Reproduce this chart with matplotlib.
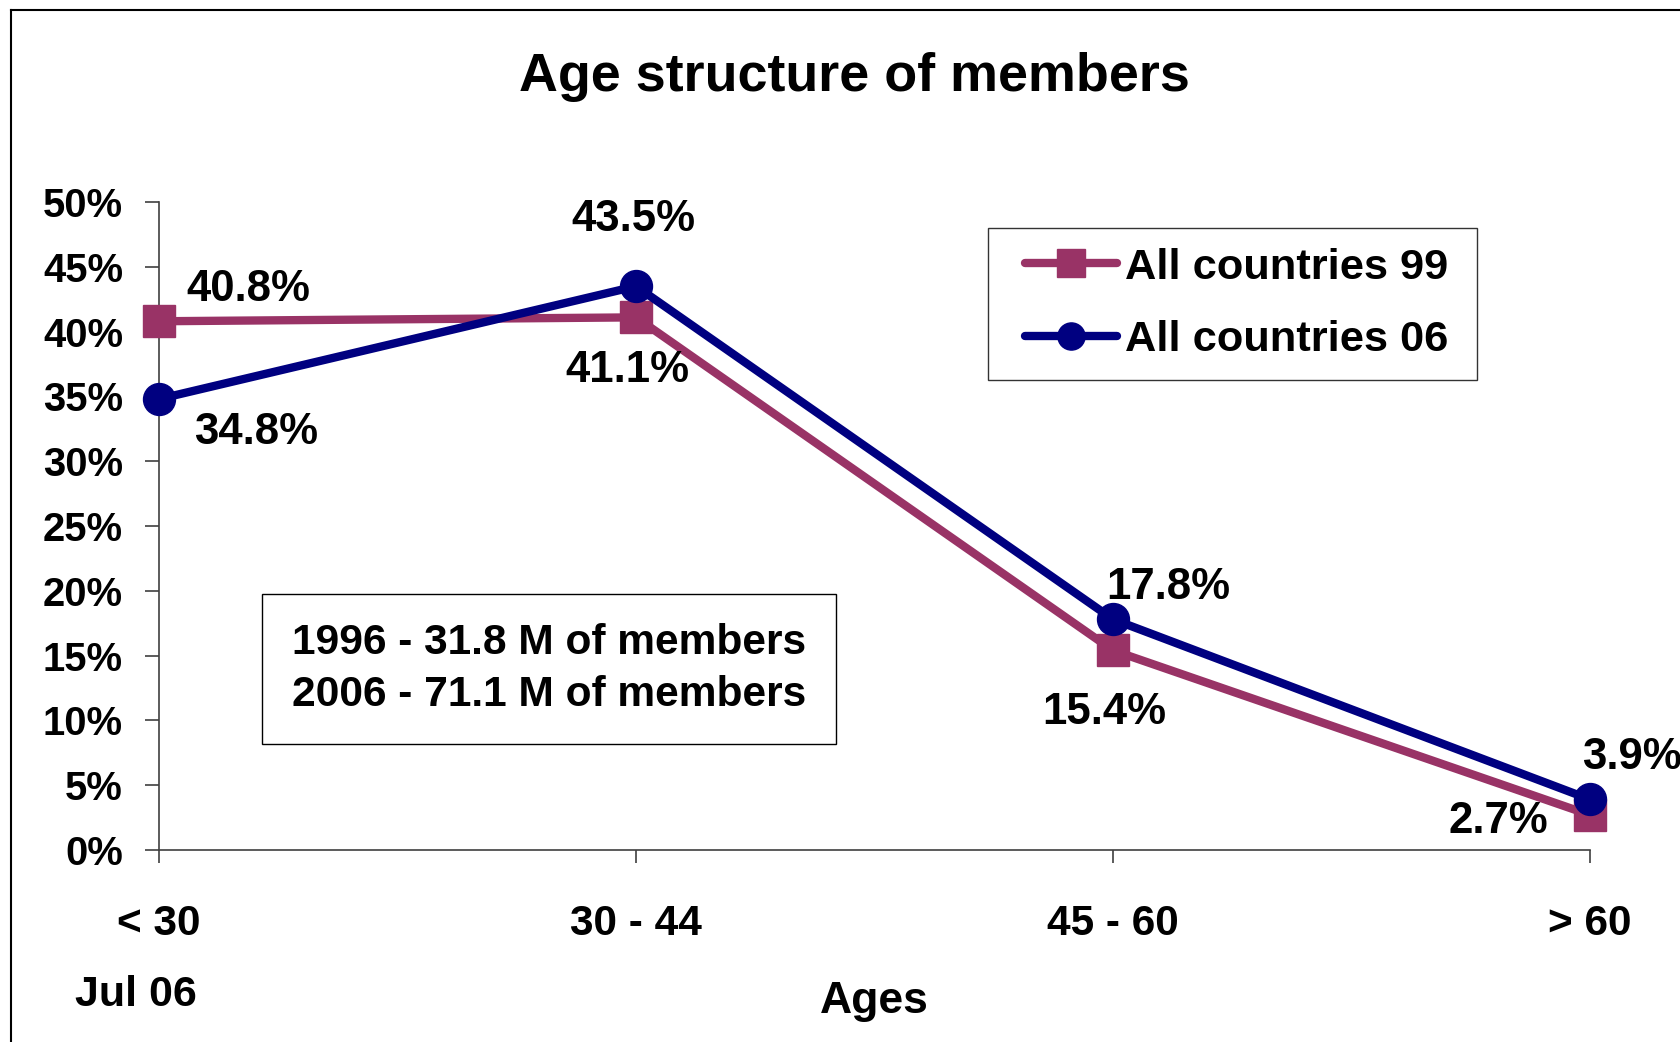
import matplotlib
matplotlib.use("Agg")
import matplotlib.pyplot as plt
from matplotlib.lines import Line2D
from matplotlib.legend_handler import HandlerLine2D
from matplotlib.ticker import FuncFormatter, MultipleLocator

plt.rcParams['font.family'] = ['Liberation Sans', 'DejaVu Sans']
plt.rcParams['font.weight'] = 'bold'

# Data
age_groups = ["< 30", "30 - 44", "45 - 60", "> 60"]
members_99 = [40.8, 41.1, 15.4, 2.7]
members_06 = [34.8, 43.5, 17.8, 3.9]

# Label offsets (points) for each value label
offsets_99 = [(64, 23), (-6, -38), (-6, -45), (-66, -5)]
offsets_06 = [(70, -24), (-2, 48), (40, 23), (30, 30)]

W, H = 1681, 1042
fig = plt.figure(figsize=(W / 100, H / 100), dpi=100)
ax = fig.add_axes([0.0946, 0.1843, 0.8513, 0.6218])

x = list(range(len(age_groups)))
c99 = "#993366"
c06 = "#000080"

l99, = ax.plot(x, members_99, color=c99, lw=6, marker='s', markersize=23.5,
               solid_capstyle='round', label="All countries 99", zorder=3,
               clip_on=False)
l06, = ax.plot(x, members_06, color=c06, lw=6, marker='o', markersize=23,
               solid_capstyle='round', label="All countries 06", zorder=4,
               clip_on=False)

for xi, v, off in zip(x, members_99, offsets_99):
    ax.annotate(f"{v:.1f}%", (xi, v), xytext=off, textcoords='offset points',
                ha='center', va='center', fontsize=31.5, fontweight='bold')
for xi, v, off in zip(x, members_06, offsets_06):
    ax.annotate(f"{v:.1f}%", (xi, v), xytext=off, textcoords='offset points',
                ha='center', va='center', fontsize=31.5, fontweight='bold')

ax.set_xlim(0, 3)
ax.set_ylim(0, 50)
ax.yaxis.set_major_locator(MultipleLocator(5))
ax.yaxis.set_major_formatter(FuncFormatter(lambda v, p: f"{v:.0f}%"))
ax.set_xticks(x)
ax.set_xticklabels(age_groups)

for s in ['top', 'right']:
    ax.spines[s].set_visible(False)
for s in ['left', 'bottom']:
    ax.spines[s].set_color('#404040')
    ax.spines[s].set_linewidth(1.2)

ax.tick_params(axis='y', direction='out', length=10, width=1.2, color='#404040',
               pad=16, labelsize=28.8)
ax.tick_params(axis='x', direction='out', length=9, width=1.2, color='#404040',
               pad=30, labelsize=30.5)
for lbl in ax.get_xticklabels() + ax.get_yticklabels():
    lbl.set_fontweight('bold')
ax.patch.set_alpha(0)

# Legend box spanning a fixed width, handles indented from the frame
leg_x0, leg_x1, leg_top = 988 / W, 1477 / W, 1 - 228 / H
handler = HandlerLine2D(xpad=0.4)
leg = fig.legend(handles=[l99, l06], loc='upper left',
                 bbox_to_anchor=(leg_x0, leg_top - 0.2, leg_x1 - leg_x0, 0.2),
                 mode='expand', fontsize=31.2, frameon=True, fancybox=False,
                 edgecolor='black', borderpad=0.45, handlelength=2.52,
                 handletextpad=0.19, labelspacing=0.75, markerscale=0.85,
                 borderaxespad=0,
                 handler_map={l99: handler, l06: handler})
leg.get_frame().set_linewidth(1.0)
for t in leg.get_texts():
    t.set_fontweight('bold')

# Title, axis caption and notes
fig.text(854 / W, 1 - 77 / H, "Age structure of members", ha='center',
         va='center', fontsize=38.8, fontweight='bold')
fig.text(874 / W, 1 - 1001 / H, "Ages", ha='center', va='center',
         fontsize=32, fontweight='bold')
fig.text(136 / W, 1 - 995 / H, "Jul 06", ha='center', va='center',
         fontsize=31, fontweight='bold')

fig.text(549 / W, 1 - 669 / H,
         "1996 - 31.8 M of members\n2006 - 71.1 M of members",
         ha='center', va='center', fontsize=30.6, fontweight='bold',
         linespacing=1.37,
         bbox=dict(boxstyle='square,pad=0.7', fc='white', ec='black', lw=1.0))

# Outer frame (left and top edges)
fig.add_artist(Line2D([11 / W, 11 / W], [0, 1 - 10 / H],
                      transform=fig.transFigure, color='black', lw=1.5))
fig.add_artist(Line2D([11 / W, 1], [1 - 10 / H, 1 - 10 / H],
                      transform=fig.transFigure, color='black', lw=1.5))

fig.savefig("out.png", dpi=100, facecolor='white')
